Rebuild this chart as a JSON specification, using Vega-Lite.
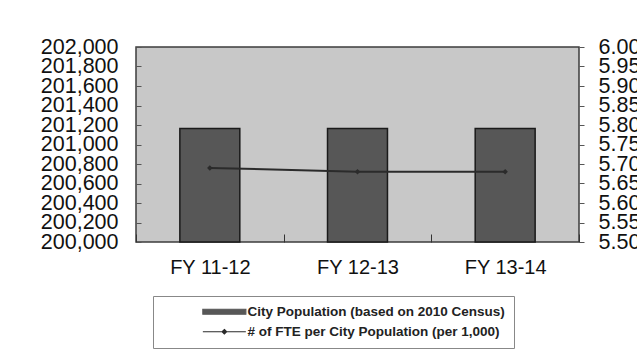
{
  "$schema": "https://vega.github.io/schema/vega-lite/v6.json",
  "width": 443,
  "height": 195,
  "autosize": {"type": "none"},
  "padding": {"left": 136, "top": 47, "right": 58, "bottom": 122},
  "background": "#ffffff",
  "config": {
    "font": "Liberation Sans",
    "view": {"fill": "#c8c8c8", "stroke": "#3c3c3c", "strokeWidth": 1.5}
  },
  "data": {
    "values": [
      {"year": "FY 11-12", "population": 201165, "fte": 5.69},
      {"year": "FY 12-13", "population": 201165, "fte": 5.68},
      {"year": "FY 13-14", "population": 201165, "fte": 5.68}
    ]
  },
  "encoding": {
    "x": {
      "field": "year",
      "type": "nominal",
      "sort": null,
      "scale": {"paddingInner": 0, "paddingOuter": 0},
      "axis": {
        "title": null,
        "labelAngle": 0,
        "labelFontSize": 20,
        "labelColor": "#111111",
        "domain": false,
        "ticks": true,
        "tickBand": "extent",
        "tickSize": -8,
        "tickColor": "#333333",
        "labelPadding": 23
      }
    }
  },
  "layer": [
    {
      "mark": {"type": "bar", "stroke": "#1a1a1a", "strokeWidth": 1.5, "width": {"band": 0.406}},
      "encoding": {
        "y": {
          "field": "population",
          "type": "quantitative",
          "scale": {"domain": [200000, 202000], "nice": false, "zero": false},
          "axis": {
            "orient": "left",
            "title": null,
            "values": [200000, 200200, 200400, 200600, 200800, 201000, 201200, 201400, 201600, 201800, 202000],
            "format": ",d",
            "labelFontSize": 21.5,
            "labelColor": "#111111",
            "labelOverlap": false,
            "labelFlush": false,
            "domain": false,
            "grid": false,
            "tickSize": -5,
            "tickColor": "#555555",
            "labelPadding": 23
          }
        },
        "y2": {"datum": 200000},
        "color": {
          "datum": "City Population (based on 2010 Census)",
          "scale": {
            "domain": ["City Population (based on 2010 Census)", "# of FTE per City Population (per 1,000)"],
            "range": ["#575757", "#2b2b2b"]
          },
          "legend": {
            "orient": "none",
            "legendX": 17,
            "legendY": 249,
            "title": null,
            "direction": "vertical",
            "padding": 9,
            "rowPadding": 5,
            "symbolOffset": 55.6,
            "labelOffset": 16.4,
            "symbolSize": 100,
            "symbolType": {"expr": "indexof(datum.value, 'City') === 0 ? 'M-4.3,-0.5H4.3V0.5H-4.3Z' : 'M-4.3,0H4.3M0,-0.45L0.45,0L0,0.45L-0.45,0Z'"},
            "symbolStrokeColor": "#2b2b2b",
            "symbolStrokeWidth": 1.2,
            "symbolOpacity": 1,
            "labelFont": "Liberation Sans",
            "labelFontSize": 13.5,
            "labelFontWeight": "bold",
            "labelColor": "#222222",
            "labelLimit": 400,
            "strokeColor": "#888888",
            "fillColor": "#ffffff"
          }
        }
      }
    },
    {
      "mark": {"type": "line", "strokeWidth": 2, "point": {"shape": "diamond", "size": 30, "filled": true}},
      "encoding": {
        "y": {
          "field": "fte",
          "type": "quantitative",
          "scale": {"domain": [5.5, 6.0], "nice": false, "zero": false},
          "axis": {
            "orient": "right",
            "title": null,
            "values": [5.5, 5.55, 5.6, 5.65, 5.7, 5.75, 5.8, 5.85, 5.9, 5.95, 6.0],
            "format": ".2f",
            "labelFontSize": 21.5,
            "labelColor": "#111111",
            "labelOverlap": false,
            "labelFlush": false,
            "domain": false,
            "grid": false,
            "tickSize": 5,
            "tickColor": "#555555",
            "labelPadding": 14
          }
        },
        "color": {"datum": "# of FTE per City Population (per 1,000)", "legend": null}
      }
    }
  ],
  "resolve": {"scale": {"y": "independent"}}
}
